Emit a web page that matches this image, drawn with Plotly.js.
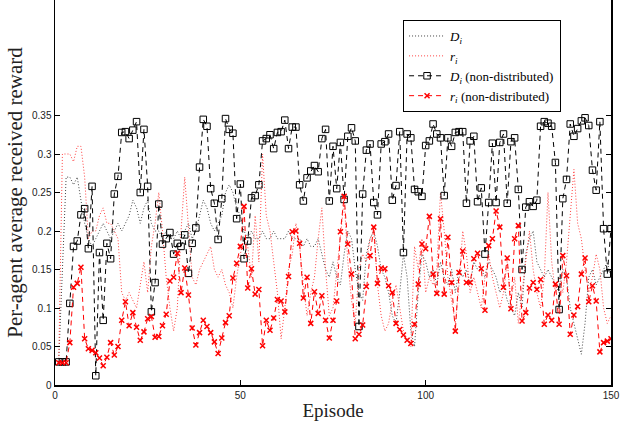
<!DOCTYPE html>
<html>
<head>
<meta charset="utf-8">
<script src="https://cdn.plot.ly/plotly-3.0.1.min.js"></script>
<style>html,body{margin:0;padding:0;background:#fff;}#chart{width:634px;height:426px;}</style>
</head>
<body>
<div id="chart"></div>
<script>
const episodes = [1,2,3,4,5,6,7,8,9,10,11,12,13,14,15,16,17,18,19,20,21,22,23,24,25,26,27,28,29,30,
31,32,33,34,35,36,37,38,39,40,41,42,43,44,45,46,47,48,49,50,51,52,53,54,55,56,57,58,59,60,
61,62,63,64,65,66,67,68,69,70,71,72,73,74,75,76,77,78,79,80,81,82,83,84,85,86,87,88,89,90,
91,92,93,94,95,96,97,98,99,100,101,102,103,104,105,106,107,108,109,110,111,112,113,114,115,116,117,118,119,120,
121,122,123,124,125,126,127,128,129,130,131,132,133,134,135,136,137,138,139,140,141,142,143,144,145,146,147,148,149,150];

// D_i (distributed), dotted black
const dDist = [0.03,0.14,0.27,0.27,0.26,0.27,0.24,0.21,0.19,0.18,0.19,0.20,0.21,0.20,0.19,0.20,0.21,0.20,0.21,0.22,
0.24,0.23,0.21,0.23,0.24,0.21,0.20,0.20,0.19,0.20,0.19,0.19,0.20,0.19,0.20,0.21,0.19,0.20,0.22,0.24,
0.23,0.21,0.20,0.21,0.22,0.25,0.26,0.25,0.23,0.22,0.20,0.19,0.20,0.19,0.19,0.20,0.19,0.19,0.20,0.19,
0.19,0.19,0.20,0.19,0.19,0.19,0.18,0.19,0.18,0.18,0.19,0.17,0.15,0.14,0.16,0.14,0.13,0.17,0.20,0.19,
0.15,0.12,0.11,0.17,0.19,0.20,0.18,0.15,0.14,0.12,0.09,0.08,0.12,0.17,0.14,0.07,0.05,0.12,0.17,0.16,
0.14,0.15,0.13,0.16,0.14,0.13,0.15,0.12,0.15,0.14,0.15,0.13,0.16,0.15,0.15,0.14,0.16,0.15,0.14,0.12,
0.13,0.11,0.10,0.09,0.12,0.10,0.17,0.19,0.20,0.16,0.15,0.14,0.15,0.14,0.13,0.12,0.15,0.14,0.10,0.08,
0.06,0.04,0.08,0.14,0.15,0.13,0.14,0.15,0.16,0.14];

// r_i (distributed), dotted red
const rDist = [0.03,0.30,0.30,0.30,0.29,0.31,0.31,0.27,0.19,0.20,0.20,0.22,0.23,0.21,0.21,0.20,0.19,0.12,0.11,0.12,
0.11,0.10,0.13,0.16,0.12,0.18,0.21,0.25,0.20,0.14,0.10,0.07,0.10,0.20,0.27,0.20,0.14,0.13,0.15,0.16,
0.17,0.18,0.15,0.14,0.15,0.13,0.12,0.10,0.14,0.17,0.19,0.18,0.14,0.22,0.16,0.30,0.22,0.20,0.16,0.12,
0.06,0.10,0.15,0.17,0.21,0.18,0.13,0.09,0.12,0.14,0.19,0.23,0.15,0.09,0.10,0.15,0.20,0.24,0.16,0.11,
0.08,0.15,0.17,0.16,0.19,0.20,0.13,0.09,0.07,0.08,0.11,0.13,0.10,0.07,0.06,0.05,0.18,0.15,0.19,0.12,
0.14,0.13,0.15,0.25,0.20,0.14,0.11,0.08,0.13,0.20,0.17,0.12,0.14,0.12,0.10,0.14,0.17,0.14,0.12,0.10,
0.12,0.16,0.11,0.14,0.08,0.12,0.16,0.20,0.15,0.12,0.10,0.14,0.25,0.16,0.12,0.14,0.12,0.16,0.22,0.28,
0.21,0.19,0.15,0.12,0.14,0.17,0.15,0.10,0.08,0.09];

// D_i (non-distributed), dashed black with squares
const dNonDist = [0.030,0.030,0.030,0.106,0.180,0.187,0.221,0.229,0.177,0.258,0.012,0.172,0.084,0.184,0.164,0.248,0.271,0.328,0.329,0.320,
0.331,0.342,0.250,0.332,0.258,0.095,0.133,0.235,0.183,0.190,0.198,0.170,0.184,0.180,0.195,0.145,0.184,0.204,0.283,0.345,
0.336,0.255,0.236,0.189,0.242,0.346,0.332,0.327,0.216,0.261,0.164,0.187,0.243,0.246,0.260,0.317,0.320,0.325,0.307,0.328,
0.329,0.344,0.307,0.335,0.335,0.260,0.239,0.269,0.278,0.285,0.277,0.320,0.332,0.239,0.310,0.255,0.315,0.241,0.323,0.334,
0.317,0.076,0.248,0.305,0.313,0.237,0.221,0.313,0.316,0.326,0.240,0.259,0.329,0.172,0.326,0.321,0.254,0.251,0.245,0.311,
0.317,0.339,0.326,0.321,0.246,0.321,0.310,0.328,0.329,0.329,0.236,0.317,0.323,0.238,0.256,0.170,0.237,0.314,0.237,0.315,
0.326,0.236,0.316,0.321,0.254,0.150,0.231,0.238,0.232,0.240,0.336,0.342,0.340,0.336,0.289,0.098,0.242,0.267,0.339,0.323,
0.333,0.343,0.347,0.337,0.279,0.253,0.342,0.203,0.144,0.203];

// r_i (non-distributed), dashed red with x markers
const rNonDist = [0.029,0.029,0.029,0.055,0.127,0.132,0.153,0.060,0.047,0.045,0.042,0.035,0.025,0.036,0.055,0.039,0.050,0.084,0.108,0.077,
0.094,0.075,0.058,0.069,0.086,0.089,0.062,0.063,0.077,0.092,0.135,0.140,0.171,0.120,0.152,0.117,0.074,0.052,0.068,0.084,
0.076,0.068,0.056,0.041,0.061,0.081,0.090,0.139,0.158,0.180,0.232,0.126,0.151,0.118,0.124,0.051,0.084,0.071,0.087,0.111,
0.109,0.095,0.141,0.199,0.200,0.184,0.113,0.140,0.080,0.121,0.093,0.116,0.084,0.061,0.084,0.109,0.199,0.245,0.183,0.144,
0.060,0.066,0.078,0.128,0.168,0.205,0.132,0.152,0.151,0.129,0.120,0.080,0.072,0.065,0.058,0.054,0.079,0.131,0.183,0.177,
0.219,0.144,0.119,0.216,0.118,0.192,0.133,0.070,0.146,0.174,0.133,0.133,0.164,0.171,0.151,0.097,0.181,0.190,0.226,0.205,
0.127,0.165,0.099,0.190,0.207,0.083,0.094,0.126,0.133,0.124,0.137,0.079,0.091,0.084,0.131,0.079,0.168,0.142,0.066,0.091,
0.102,0.144,0.165,0.108,0.129,0.109,0.043,0.055,0.057,0.060];

const seriesNames = ['<i>D<sub>i</sub></i>', '<i>r<sub>i</sub></i>',
  '<i>D<sub>i</sub></i> (non-distributed)', '<i>r<sub>i</sub></i> (non-distributed)'];
const yTickVals = [0,0.05,0.1,0.15,0.2,0.25,0.3,0.35];
const yTickText = ['0','0.05','0.1','0.15','0.2','0.25','0.3','0.35'];
const xTickVals = [0,50,100,150];
const xTickText = ['0','50','100','150'];

const traces = [
  {x: episodes, y: dDist, name: seriesNames[0], type: 'scatter', mode: 'lines',
   line: {color: '#444', dash: '1px,2px', width: 1}},
  {x: episodes, y: rDist, name: seriesNames[1], type: 'scatter', mode: 'lines',
   line: {color: '#ff4040', dash: '1px,2px', width: 1}},
  {x: episodes, y: dNonDist, name: seriesNames[2], type: 'scatter', mode: 'lines+markers',
   line: {color: '#000', dash: '5px,4px', width: 1},
   marker: {symbol: 'square-open', size: 6.5, color: '#000', line: {width: 1, color: '#000'}}},
  {x: episodes, y: rNonDist, name: seriesNames[3], type: 'scatter', mode: 'lines+markers',
   line: {color: '#ff0000', dash: '5px,4px', width: 1},
   marker: {symbol: 'x-thin-open', size: 5, color: '#ff0000', line: {width: 1.5, color: '#ff0000'}}}
];

const layout = {
  width: 634, height: 426,
  margin: {l: 55, r: 23, t: 0, b: 41},
  paper_bgcolor: '#fff', plot_bgcolor: '#fff',
  showlegend: true,
  legend: {x: 0.626, y: 0.948, xanchor: 'left', yanchor: 'top',
    bgcolor: '#fff', bordercolor: '#000', borderwidth: 1,
    font: {family: 'Liberation Serif, DejaVu Serif, serif', size: 13, color: '#000'},
    itemwidth: 36, tracegroupgap: 0},
  xaxis: {range: [0, 150], tickvals: xTickVals, ticktext: xTickText,
    ticks: 'inside', ticklen: 5, tickcolor: '#000', showgrid: false, zeroline: false,
    showline: true, linecolor: '#000', linewidth: 1.5, mirror: false,
    tickfont: {family: 'Liberation Sans, Arial, sans-serif', size: 10, color: '#222'},
    title: {text: 'Episode', font: {family: 'Liberation Serif, DejaVu Serif, serif', size: 19, color: '#222'}, standoff: 4}},
  yaxis: {range: [0, 0.5], tickvals: yTickVals, ticktext: yTickText,
    ticks: 'inside', ticklen: 5, tickcolor: '#000', showgrid: false, zeroline: false,
    showline: true, linecolor: '#000', linewidth: 1.5, mirror: 'ticks',
    tickfont: {family: 'Liberation Sans, Arial, sans-serif', size: 10, color: '#222'},
    title: {text: 'Per-agent average received reward', font: {family: 'Liberation Serif, DejaVu Serif, serif', size: 21, color: '#222'}, standoff: 3}}
};

Plotly.newPlot('chart', traces, layout, {displayModeBar: false, staticPlot: true});
</script>
</body>
</html>
